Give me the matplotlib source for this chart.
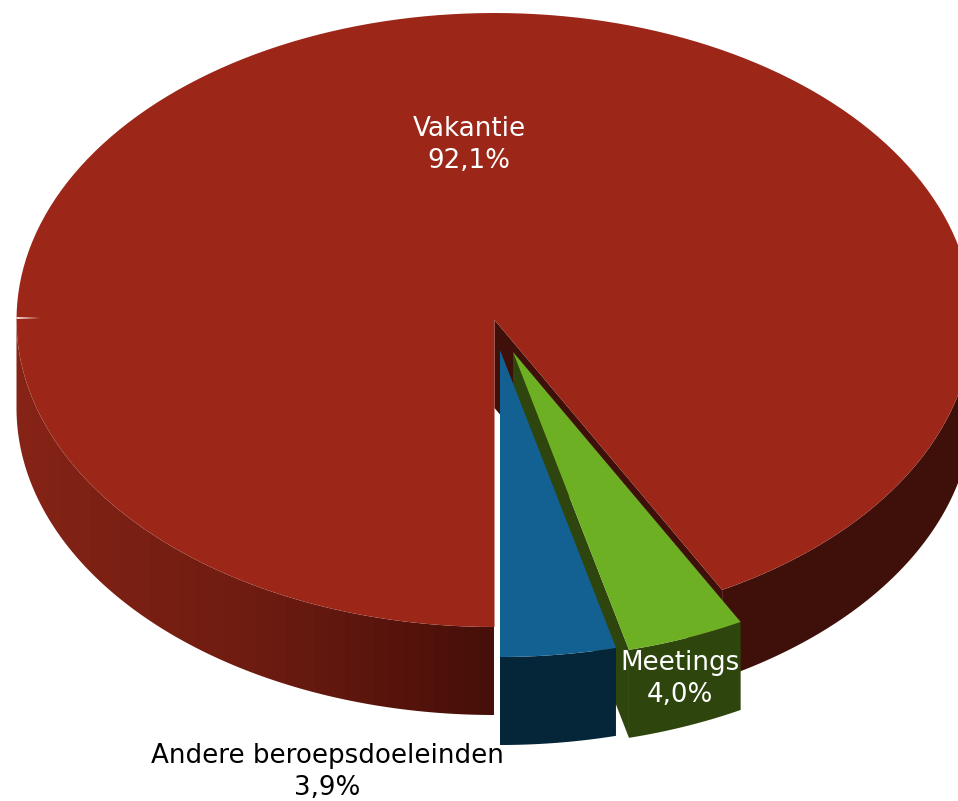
import numpy as np
import matplotlib
matplotlib.use("Agg")
import matplotlib.pyplot as plt
from matplotlib.colors import LinearSegmentedColormap
from matplotlib.patches import Polygon

# shares, in the order they go round from the bottom of the pie
labels = ["Andere beroepsdoeleinden", "Meetings", "Vakantie"]
shares = [3.9, 4.0, 92.1]
top_colors = ["#136193", "#6eb024", "#9c2718"]
side_colors = ["#052639", "#2e460d", "#3f100a"]

# ellipse geometry in pixels
rx, ry = 478, 307
depth = 88
cx, cy = 494.5, 320
offsets = [(5.5, 30), (18.5, 32), (0, 0)]
label_pos = [(327, 772), (680, 679), (469, 145)]

fig = plt.figure(figsize=(9.58, 8.01), dpi=100)
ax = fig.add_axes([0, 0, 1, 1])
ax.set_xlim(0, 958)
ax.set_ylim(801, 0)
ax.axis("off")


def arc(x0, y0, t0, t1):
    # t in degrees, 0 is the bottom of the pie, going to the right
    t = np.radians(np.linspace(t0, t1, 200))
    return np.column_stack([x0 + rx * np.sin(t), y0 + ry * np.cos(t)])


edges = np.concatenate([[0], np.cumsum(shares)]) * 3.6


def side(x0, y0, t0, t1):
    a = arc(x0, y0, t0, t1)
    return np.vstack([a, a[::-1] + [0, depth]])


def wall(x0, y0, t):
    p = arc(x0, y0, t, t)[0]
    return [(x0, y0), (x0, y0 + depth), (p[0], p[1] + depth), (p[0], p[1])]


# big slice first: its walls, the shaded rim and the top
x0, y0 = cx + offsets[2][0], cy + offsets[2][1]
ax.add_patch(Polygon(wall(x0, y0, edges[2]), fc=side_colors[2], ec="none", zorder=1))
ax.add_patch(Polygon(side(x0, y0, edges[2], 90), fc=side_colors[2], ec="none", zorder=1))

left_rim = Polygon(side(x0, y0, 270, 360), fc="none", ec="none", zorder=1)
ax.add_patch(left_rim)
cmap = LinearSegmentedColormap.from_list("rim", ["#852316", "#6e1c11", "#470f09"])
im = ax.imshow(np.linspace(0, 1, 32)[None, :], cmap=cmap, aspect="auto", zorder=1,
               extent=(x0 - rx, x0, 801, 0), interpolation="nearest")
im.set_clip_path(left_rim)
ax.set_xlim(0, 958)
ax.set_ylim(801, 0)

top = np.vstack([[(x0, y0)], arc(x0, y0, edges[2], 360)])
ax.add_patch(Polygon(top, fc=top_colors[2], ec="none", zorder=2))

# thin light seam on the left edge of the top
ax.add_patch(Polygon([(x0 - rx, y0 - 3), (x0 - rx + 24, y0 - 2), (x0 - rx, y0 - 1)],
                     fc="#f2dcd6", ec="none", zorder=3))

# green slice, then blue on top of it
for i in [1, 0]:
    x1, y1 = cx + offsets[i][0], cy + offsets[i][1]
    z = 4 if i == 1 else 6
    ax.add_patch(Polygon(wall(x1, y1, edges[i]), fc=side_colors[i], ec="none", zorder=z))
    ax.add_patch(Polygon(side(x1, y1, edges[i], edges[i + 1]), fc=side_colors[i], ec="none", zorder=z))
    top = np.vstack([[(x1, y1)], arc(x1, y1, edges[i], edges[i + 1])])
    ax.add_patch(Polygon(top, fc=top_colors[i], ec="none", zorder=z + 1))

colors = ["black", "white", "white"]
for name, share, pos, col in zip(labels, shares, label_pos, colors):
    txt = name + "\n" + f"{share:.1f}".replace(".", ",") + "%"
    ax.text(pos[0], pos[1], txt, color=col, ha="center", va="center", fontsize=18.8,
            linespacing=1.33, family="DejaVu Sans", zorder=10)

fig.savefig("out.png", dpi=100)
